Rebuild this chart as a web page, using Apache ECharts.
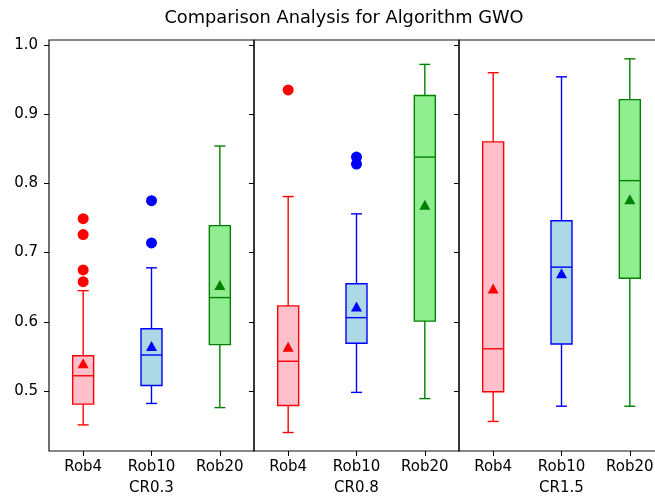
<!DOCTYPE html>
<html>
<head>
<meta charset="utf-8">
<script src="https://cdn.jsdelivr.net/npm/echarts@6/dist/echarts.min.js"></script>
<style>
  html, body { margin: 0; padding: 0; background: #fff; }
  #chart { width: 655px; height: 498px; }
</style>
</head>
<body>
<div id="chart"></div>
<script>
// Robustness levels compared within each crossover-rate group
const categories = ['Rob4', 'Rob10', 'Rob20'];
const groups = ['CR0.3', 'CR0.8', 'CR1.5'];
const yTicks = [0.5, 0.6, 0.7, 0.8, 0.9, 1.0];

// Five-number summaries per category: [min, Q1, median, Q3, max]
const statsCR03 = [
  [0.451, 0.481, 0.522, 0.551, 0.645],
  [0.482, 0.508, 0.552, 0.590, 0.678],
  [0.476, 0.567, 0.635, 0.739, 0.854]
];
const statsCR08 = [
  [0.440, 0.479, 0.543, 0.623, 0.781],
  [0.498, 0.569, 0.606, 0.655, 0.756],
  [0.489, 0.601, 0.838, 0.927, 0.972]
];
const statsCR15 = [
  [0.456, 0.499, 0.561, 0.860, 0.960],
  [0.478, 0.568, 0.679, 0.746, 0.954],
  [0.478, 0.663, 0.804, 0.921, 0.980]
];

// Means per category
const meansCR03 = [0.540, 0.565, 0.653];
const meansCR08 = [0.564, 0.622, 0.769];
const meansCR15 = [0.648, 0.670, 0.777];

// Outliers as [categoryIndex, value]
const outliersCR03 = [[0, 0.749], [0, 0.726], [0, 0.675], [0, 0.658], [1, 0.775], [1, 0.714]];
const outliersCR08 = [[0, 0.935], [1, 0.838], [1, 0.828]];
const outliersCR15 = [];

const stats = [statsCR03, statsCR08, statsCR15];
const means = [meansCR03, meansCR08, meansCR15];
const outliers = [outliersCR03, outliersCR08, outliersCR15];

// Styling
const edgeColors = ['#ff0000', '#0000ff', '#008000'];
const fillColors = ['#ffc0cb', '#add8e6', '#90ee90'];
const FONT = 'DejaVu Sans';
const yMin = 0.41329, yMax = 1.00723;
const panelLeft = [49, 254, 459];
const panelWidth = [205, 205, 205];
const boxHalf = 10.5, capHalf = 5.5, lw = 1.4;

const grids = [], xAxes = [], yAxes = [], series = [];

for (let g = 0; g < 3; g++) {
  grids.push({
    left: panelLeft[g], top: 40, width: panelWidth[g], height: 411,
    outerBoundsMode: 'none',
    show: true, borderColor: '#111', borderWidth: 1.2, backgroundColor: 'transparent'
  });
  xAxes.push({
    type: 'category', gridIndex: g, data: categories, boundaryGap: true,
    axisLine: { show: false },
    axisTick: { show: true, alignWithLabel: true, length: 5, lineStyle: { color: '#000', width: 1 } },
    axisLabel: { color: '#000', fontFamily: FONT, fontSize: 15, margin: 9 },
    name: groups[g], nameLocation: 'middle', nameGap: 30,
    nameTextStyle: { color: '#000', fontFamily: FONT, fontSize: 15 },
    splitLine: { show: false }
  });
  yAxes.push({
    type: 'value', gridIndex: g, min: yMin, max: yMax,
    axisLine: { show: false },
    axisTick: { show: true, length: 5, customValues: yTicks, lineStyle: { color: '#000', width: 1 } },
    axisLabel: {
      show: g === 0, customValues: yTicks, color: '#000', fontFamily: FONT, fontSize: 15, margin: 11,
      formatter: v => v.toFixed(1)
    },
    splitLine: { show: false }
  });

  // Boxes, whiskers, caps and medians
  series.push({
    type: 'custom', xAxisIndex: g, yAxisIndex: g, z: 2,
    data: stats[g].map((s, i) => [i].concat(s)),
    renderItem: function (params, api) {
      const i = api.value(0);
      const x = api.coord([i, api.value(3)])[0];
      const yLo = api.coord([i, api.value(1)])[1];
      const yQ1 = api.coord([i, api.value(2)])[1];
      const yMed = api.coord([i, api.value(3)])[1];
      const yQ3 = api.coord([i, api.value(4)])[1];
      const yHi = api.coord([i, api.value(5)])[1];
      const c = edgeColors[i];
      const line = (x1, y1, x2, y2) => ({
        type: 'line', shape: { x1, y1, x2, y2 },
        style: { stroke: c, lineWidth: lw }
      });
      return {
        type: 'group',
        children: [
          line(x, yQ1, x, yLo),
          line(x, yQ3, x, yHi),
          line(x - capHalf, yLo, x + capHalf, yLo),
          line(x - capHalf, yHi, x + capHalf, yHi),
          {
            type: 'rect',
            shape: { x: x - boxHalf, y: yQ3, width: boxHalf * 2, height: yQ1 - yQ3 },
            style: { fill: fillColors[i], stroke: c, lineWidth: lw }
          },
          line(x - boxHalf, yMed, x + boxHalf, yMed)
        ]
      };
    }
  });

  // Mean markers
  series.push({
    type: 'scatter', xAxisIndex: g, yAxisIndex: g, z: 4,
    symbol: 'triangle', symbolSize: [11, 10],
    data: means[g].map((m, i) => ({ value: [i, m], itemStyle: { color: edgeColors[i], opacity: 1 } })),
    silent: true
  });

  // Outliers
  series.push({
    type: 'scatter', xAxisIndex: g, yAxisIndex: g, z: 3,
    symbol: 'circle', symbolSize: 11,
    data: outliers[g].map(p => ({ value: p, itemStyle: { color: edgeColors[p[0]], opacity: 1 } })),
    silent: true
  });
}

const chart = echarts.init(document.getElementById('chart'), null, { renderer: 'canvas' });
chart.setOption({
  animation: false,
  backgroundColor: '#fff',
  title: {
    text: 'Comparison Analysis for Algorithm GWO',
    left: 339, top: 4, textAlign: 'center',
    textStyle: { color: '#000', fontFamily: FONT, fontSize: 17.8, fontWeight: 'normal' }
  },
  grid: grids,
  xAxis: xAxes,
  yAxis: yAxes,
  series: series
});
</script>
</body>
</html>
